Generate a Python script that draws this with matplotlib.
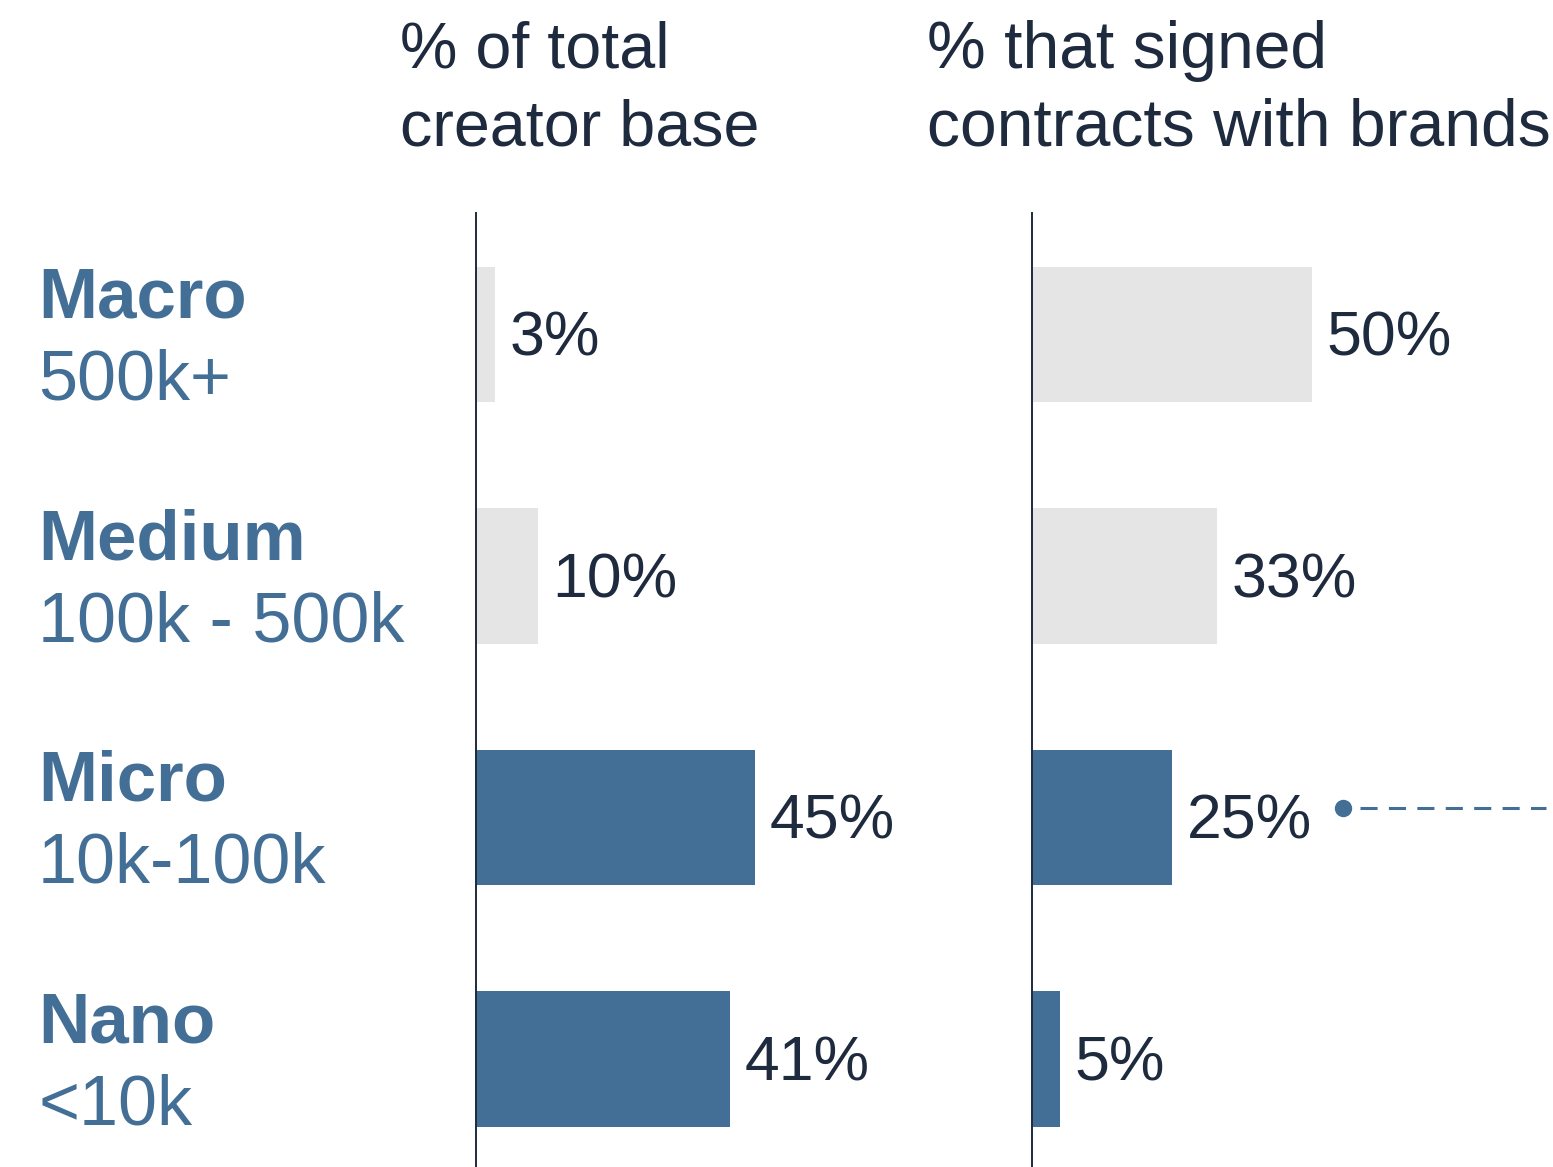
import matplotlib.pyplot as plt

plt.rcParams['font.family'] = ['Liberation Sans', 'DejaVu Sans']

# data
tiers = ['Macro', 'Medium', 'Micro', 'Nano']
ranges = ['500k+', '100k - 500k', '10k-100k', '<10k']
share_of_base = [3, 10, 45, 41]
share_signed = [50, 33, 25, 5]
highlight = [False, False, True, True]

blue = '#436f96'
grey = '#e5e5e5'
navy = '#1e2a3d'

W, H = 1553, 1167
fig = plt.figure(figsize=(W / 100, H / 100), dpi=100)

top = 1 - 213 / H
ax1 = fig.add_axes([476 / W, 0, (1032 - 476) / W, top])
ax2 = fig.add_axes([1032 / W, 0, (W - 1032) / W, top])

ypos = list(range(len(tiers)))
colors = [blue if h else grey for h in highlight]

for ax, vals, px in [(ax1, share_of_base, 6.2), (ax2, share_signed, 5.6)]:
    width_px = ax.get_position().width * W
    ax.barh(ypos, vals, height=0.56, color=colors)
    ax.set_xlim(0, width_px / px)
    ax.set_ylim(3.447, -0.503)
    for s in ['top', 'right', 'bottom']:
        ax.spines[s].set_visible(False)
    ax.spines['left'].set_color(navy)
    ax.spines['left'].set_linewidth(1.4)
    ax.set_xticks([])
    ax.set_yticks([])
    ax.patch.set_alpha(0)
    for y, v in zip(ypos, vals):
        ax.annotate(f'{v}%', (v, y), xytext=(10.5, -3.5), textcoords='offset points',
                    ha='left', va='center', fontsize=45, color=navy)

# category labels
for y, t, r in zip(ypos, tiers, ranges):
    ax1.annotate(t, (38, y), xycoords=('figure pixels', 'data'),
                 xytext=(0, 12), textcoords='offset points',
                 ha='left', va='baseline', fontsize=51, fontweight='bold', color=blue)
    ax1.annotate(r, (38, y), xycoords=('figure pixels', 'data'),
                 xytext=(0, -47), textcoords='offset points',
                 ha='left', va='baseline', fontsize=50.5, color=blue)

# column headers
fig.text(400 / W, 1 - 68 / H, '% of total', fontsize=46.5, color=navy, va='baseline')
fig.text(400 / W, 1 - 145 / H, 'creator base', fontsize=46.5, color=navy, va='baseline')
fig.text(927 / W, 1 - 68 / H, '% that signed', fontsize=47.5, color=navy, va='baseline')
fig.text(927 / W, 1 - 145 / H, 'contracts with brands', fontsize=47.5, color=navy, va='baseline')

# dotted pointer from the micro row
ax2.plot([55.5], [2 - 0.04], 'o', color=blue, markersize=11.5, clip_on=False)
ax2.plot([58.6, 91.8], [2 - 0.04, 2 - 0.04], color=blue, lw=2.2,
         dashes=(5.6, 3.7), clip_on=False)

fig.savefig('out.png', dpi=100)
